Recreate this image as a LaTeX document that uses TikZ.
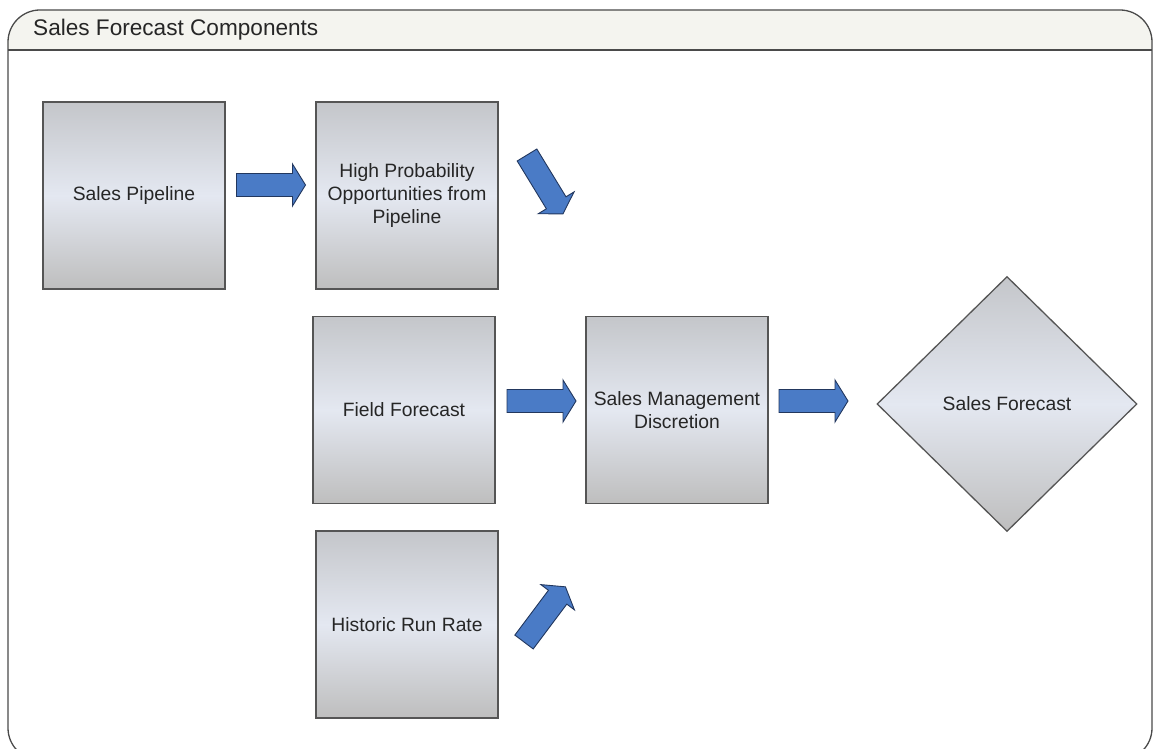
\documentclass[tikz,border=0pt]{standalone}
\usepackage{fontspec}
\setmainfont{Liberation Sans}
\usetikzlibrary{shapes.geometric}
\definecolor{txt}{HTML}{262626}
\definecolor{boxline}{HTML}{555555}
\definecolor{boxtop}{HTML}{C4C6CA}
\definecolor{boxmid}{HTML}{E4E8F1}
\definecolor{boxbot}{HTML}{BEBEBE}
\definecolor{arrfill}{HTML}{4A7BC6}
\definecolor{arrline}{HTML}{22375E}
\definecolor{headfill}{HTML}{F4F4EF}
\definecolor{frameline}{HTML}{4A4A4A}
\begin{document}
\begin{tikzpicture}[x=1pt,y=-1pt,
  box/.style={draw=boxline, line width=1.3pt, minimum width=182pt, minimum height=187pt,
    inner sep=0pt, top color=boxtop, bottom color=boxbot, middle color=boxmid,
    text=txt, font=\fontsize{19.3}{23}\selectfont, align=center},
  dia/.style={diamond, draw=boxline, line width=1.3pt, minimum width=260pt, minimum height=255pt,
    inner sep=0pt, top color=boxtop, bottom color=boxbot, middle color=boxmid,
    text=txt, font=\fontsize{19.3}{23}\selectfont, align=center},
  arrowshape/.style={fill=arrfill, draw=arrline, line width=0.9pt, line join=miter},
  blockarrow/.pic={\draw[arrowshape] (0,-11.5) -- (56,-11.5) -- (56,-21) -- (69,0) -- (56,21) -- (56,11.5) -- (0,11.5) -- cycle;}
]
\useasboundingbox (0,0) rectangle (1154,749);
% frame header fill
\begin{scope}
  \clip (0,0) rectangle (1154,50);
  \fill[headfill, rounded corners=32pt] (8,760) -- (8,10) -- (1152,10) -- (1152,760) -- cycle;
\end{scope}
\draw[frameline, line width=1.3pt, rounded corners=32pt] (8,760) -- (8,10) -- (1152,10) -- (1152,760) -- cycle;
\draw[frameline, line width=2.4pt] (8,50) -- (1152,50);
\node[anchor=base west, text=txt, font=\fontsize{22.6}{27}\selectfont, inner sep=0pt] (title) at (33,36) {Sales Forecast Components};

% boxes
\node[box] (pipe) at (134,195.5) {Sales Pipeline};
\node[box] (hp) at (407,195.5) {High Probability\\Opportunities from\\Pipeline};
\node[box] (field) at (404,410) {Field Forecast};
\node[box] (mgmt) at (677,410) {Sales Management\\Discretion};
\node[box] (hist) at (407,624.5) {Historic Run Rate};
\node[dia] (fc) at (1007,404) {Sales Forecast};

% block arrows
\coordinate (a1) at (236.5,185);
\coordinate (a2) at (527,155);
\coordinate (a3) at (507,401);
\coordinate (a4) at (779,401);
\coordinate (a5) at (524,642);
\pic at (a1) {blockarrow};
\pic[rotate=-58.6] at (a2) {blockarrow};
\pic at (a3) {blockarrow};
\pic at (a4) {blockarrow};
\pic[rotate=53.1] at (a5) {blockarrow};
\end{tikzpicture}
\end{document}
